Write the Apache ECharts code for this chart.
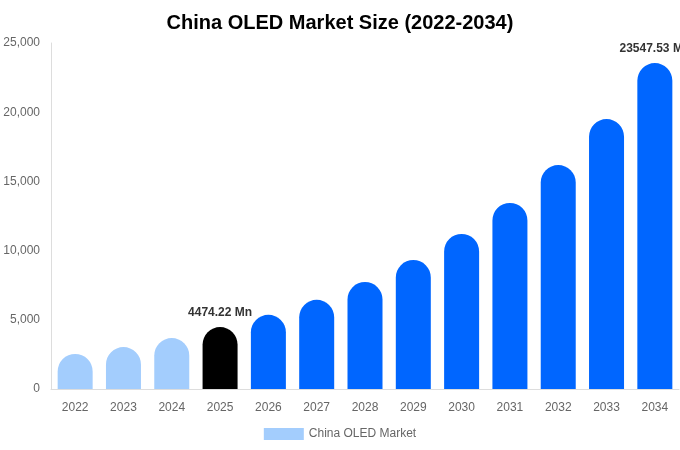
<!DOCTYPE html>
<html>
<head>
<meta charset="utf-8">
<script src="https://cdn.jsdelivr.net/npm/echarts@6/dist/echarts.min.js"></script>
<style>
  html, body { margin: 0; padding: 0; background: #fff; }
  #chart { width: 680px; height: 450px; }
</style>
</head>
<body>
<div id="chart"></div>
<script>
  var years = ['2022', '2023', '2024', '2025', '2026', '2027', '2028', '2029', '2030', '2031', '2032', '2033', '2034'];
  var marketSize = [2530, 3030, 3680, 4474.22, 5360, 6440, 7730, 9320, 11200, 13440, 16180, 19500, 23547.53];
  var labelledYears = ['2025', '2034'];
  var yTicks = [0, 5000, 10000, 15000, 20000, 25000];

  // past years light, base year black, forecast blue
  function barColor(i) {
    if (i < 3) return '#a3cdfd';
    if (i === 3) return '#000000';
    return '#0066ff';
  }

  var chartInstance = echarts.init(document.getElementById('chart'));
  var option = {
    textStyle: { fontFamily: '"Liberation Sans", Arial, sans-serif' },
    title: {
      text: 'China OLED Market Size (2022-2034)',
      left: 'center',
      top: 8,
      textStyle: { fontSize: 20, fontWeight: 'bold', color: '#000' }
    },
    legend: {
      data: ['China OLED Market'],
      bottom: 5,
      icon: 'rect',
      itemWidth: 40,
      itemHeight: 12,
      textStyle: { color: '#666', fontSize: 12 },
      itemStyle: { color: '#a3cdfd' }
    },
    grid: { top: 43, left: 51, right: 1, bottom: 61 },
    xAxis: {
      type: 'category',
      data: years,
      axisLine: { lineStyle: { color: '#ddd' } },
      axisTick: { show: false },
      axisLabel: { color: '#666', fontSize: 12, margin: 13 }
    },
    yAxis: {
      type: 'value',
      min: yTicks[0],
      max: yTicks[yTicks.length - 1],
      interval: 5000,
      axisLine: { show: true, lineStyle: { color: '#ddd' } },
      axisTick: { show: false },
      splitLine: { show: false },
      axisLabel: {
        color: '#666',
        fontSize: 12,
        margin: 11,
        formatter: function(v) { return v.toLocaleString('en-US'); }
      }
    },
    series: [{
      name: 'China OLED Market',
      type: 'bar',
      barWidth: 35,
      data: marketSize.map(function(v, i) {
        return {
          value: v,
          itemStyle: { color: barColor(i), borderRadius: [17.5, 17.5, 0, 0] },
          label: {
            show: labelledYears.indexOf(years[i]) >= 0,
            position: 'top',
            distance: 8,
            fontWeight: 'bold',
            fontSize: 12,
            color: '#333',
            formatter: function(p) { return p.value + ' Mn'; }
          }
        };
      })
    }]
  };
  chartInstance.setOption(option);
</script>
</body>
</html>
